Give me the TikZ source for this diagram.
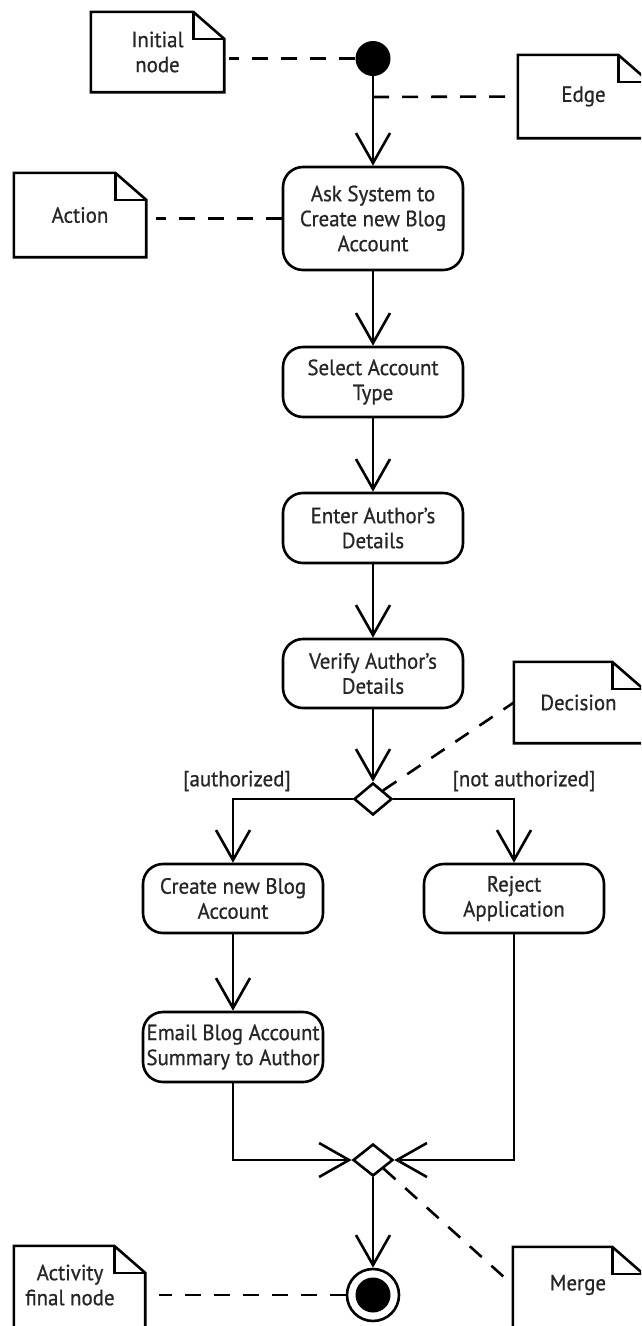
\documentclass[tikz,border=0pt]{standalone}
\usepackage{fontspec}
\setmainfont{PT Sans}[FakeStretch=0.95,FakeBold=0.7]
\usetikzlibrary{arrows.meta,shapes.geometric}
\tikzset{
  txt/.style={font=\fontsize{22}{25}\selectfont, align=center, inner sep=0pt, text=black!85},
  act/.style={txt, draw=black, line width=2.6pt, rounded corners=20pt, minimum width=180pt},
  flow/.style={line width=2.6pt, -{Straight Barb[length=30pt, width=34pt, line width=2.6pt]}},
  link/.style={line width=2.6pt, dash pattern=on 16pt off 13pt},
  notepath/.style={line width=2.6pt, line join=miter},
  notebox/.style={txt},
  gate/.style={draw, diamond, line width=2.6pt, inner sep=0pt, fill=white},
}
% #1 = node name, #2 = extension of the bottom edge, #3 = extension of the right edge
\newcommand\drawnote[3]{%
  \draw[notepath] (#1.north west) -- ([xshift=-31pt+#3]#1.north east) -- ([xshift=#3,yshift=-27pt]#1.north east)
     -- ([xshift=#3,yshift=-#2]#1.south east) -- ([yshift=-#2]#1.south west) -- cycle;
  \draw[notepath] ([xshift=-31pt+#3]#1.north east) |- ([xshift=#3,yshift=-27pt]#1.north east);}
\begin{document}
\begin{tikzpicture}[x=1pt,y=-1pt]
\useasboundingbox (0,0) rectangle (641,1326);
\clip (0,0) rectangle (641,1326);
\fill[white] (0,0) rectangle (641,1326);

% activity nodes
\node[circle, fill=black, minimum size=35pt, inner sep=0pt] (init) at (373,58.5) {};
\node[act, minimum height=103pt] (ask) at (373,218.5) {Ask System to\\Create new Blog\\Account};
\node[act, minimum height=70pt] (select) at (373,382) {Select Account\\Type};
\node[act, minimum height=70pt] (enter) at (373,528) {Enter Author's\\Details};
\node[act, minimum height=69pt] (verify) at (373,673.5) {Verify Author's\\Details};
\node[gate, minimum width=38pt, minimum height=32pt] (dec) at (373,799) {};
\node[act, minimum height=69pt] (create) at (233,898.5) {Create new Blog\\Account};
\node[act, minimum height=69pt] (reject) at (514,898.5) {Reject\\Application};
\node[act, minimum height=70pt] (email) at (233,1047) {Email Blog Account\\Summary to Author};
\node[gate, minimum width=40pt, minimum height=32pt] (merge) at (373,1160) {};
\node[circle, draw, line width=2.6pt, minimum size=52pt, inner sep=0pt] (final) at (373,1295) {};
\fill (final.center) circle (17.5pt);

% guard labels
\node[txt] (lauth) at (237,781) {[authorized]};
\node[txt] (lnot) at (524,781) {[not authorized]};

% flows
\coordinate (edgept) at (373,97);
\draw[flow] (init) -- (ask);
\draw[flow] (ask) -- (select);
\draw[flow] (select) -- (enter);
\draw[flow] (enter) -- (verify);
\draw[flow] (verify) -- (dec);
\draw[flow] (dec.west) -| (create.north);
\draw[flow] (dec.east) -| (reject.north);
\draw[flow] (create) -- (email);
\draw[flow] (email.south) |- (merge.west);
\draw[flow] (reject.south) |- (merge.east);
\draw[flow] (merge) -- (final);

% notes
\node[notebox, minimum width=133pt, minimum height=80pt] (ninit) at (157.5,52) {Initial\\node};
\drawnote{ninit}{0pt}{0pt}
\node[notebox, minimum width=131pt, minimum height=83pt] (nedge) at (583.5,96.5) {Edge};
\drawnote{nedge}{0pt}{0pt}
\node[notebox, minimum width=132pt, minimum height=84pt] (naction) at (80,215) {Action};
\drawnote{naction}{0pt}{0pt}
\node[notebox, minimum width=129pt, minimum height=81pt] (ndec) at (578.5,702.5) {Decision};
\drawnote{ndec}{0pt}{0pt}
\node[notebox, minimum width=112pt, minimum height=78pt] (nfinal) at (70,1285) {Activity\\final node};
\drawnote{nfinal}{20pt}{19pt}
\node[notebox, minimum width=130pt, minimum height=76pt] (nmerge) at (578,1285) {Merge};
\drawnote{nmerge}{20pt}{0pt}

% note links
\draw[link] (init.west) -- ([xshift=5pt]init.west -| ninit.east);
\draw[link] (edgept) -- (nedge.west);
\draw[link] (ask.west) -- ([xshift=10pt]ask.west -| naction.east);
\draw[link] (dec.north east) -- (ndec.west);
\draw[link] (merge.south east) -- (nmerge.west);
\draw[link] (final.west) -- ([xshift=33pt]final.west -| nfinal.east);
\end{tikzpicture}
\end{document}
